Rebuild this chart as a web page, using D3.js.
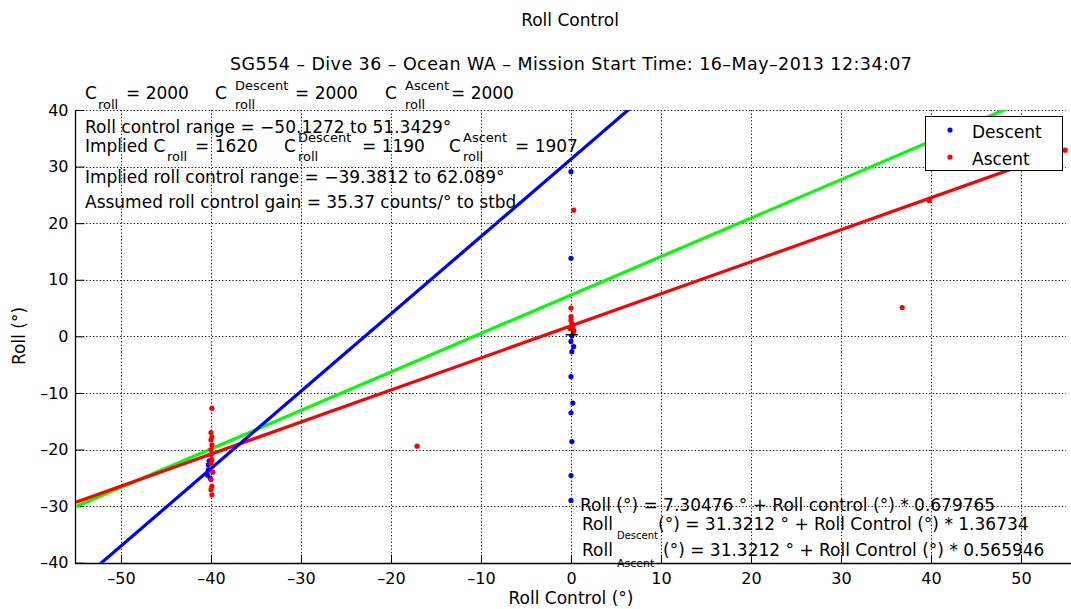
<!DOCTYPE html>
<html>
<head>
<meta charset="utf-8">
<script src="https://cdn.jsdelivr.net/npm/d3@7"></script>
<style>
  body { margin: 0; background: #fff; }
  text { font-family: "DejaVu Sans", sans-serif; fill: #000; }
</style>
</head>
<body>
<svg id="chart" width="1071" height="609"></svg>
<script>
// ---- data ----
const xTicks = [-50, -40, -30, -20, -10, 0, 10, 20, 30, 40, 50];
const yTicks = [-40, -30, -20, -10, 0, 10, 20, 30, 40];

// descent samples (roll control, roll)
const descentX = [0.0, 0.0, 0.1, 0.0, 0.3, 0.1, 0.0, 0.2, 0.0, 0.1, 0.0, 0.0,
                  -40.3, -40.3, -40.4, -40.1, -40.2];
const descentY = [29.1, 13.8, 0.1, -0.9, -1.8, -2.7, -7.1, -11.8, -13.5, -18.6, -24.6, -29.0,
                  -22.7, -23.6, -24.5, -25.0, -22.0];

// ascent samples
const ascentX = [-39.9, -40.0, -39.9, -40.0, -39.9, -40.0, -40.0, -39.9, -40.0, -39.8, -40.0, -39.9, -40.0, -39.9,
                 -17.1, 0.3, 0.0, 0.0, 0.0, 0.1, 0.2, -0.1, 0.3, 0.3, 36.8, 39.8, 54.9];
const ascentY = [-12.7, -17.0, -17.8, -18.3, -19.2, -20.0, -20.9, -21.8, -22.4, -24.0, -25.3, -26.5, -27.1, -28.0,
                 -19.4, 22.3, 5.0, 3.5, 2.9, 2.3, 1.7, 1.4, 1.1, 0.85, 5.1, 24.0, 32.9];

const centerX = [0.08];
const centerY = [0.27];

// fitted lines, end points across the x range
const fitX = [-55, 55];
const fitAllY = [-30.08, 44.69];
const fitDescentY = [-43.88, 106.52];
const fitAscentY = [-29.3, 33.0];

const legendNames = ["Descent", "Ascent"];
const legendColors = ["#0000ff", "#ff0000"];

// ---- layout ----
const svg = d3.select("#chart");
const mLeft = 76, mRight = 1066, mTop = 110, mBottom = 562.7;

const x = d3.scaleLinear().domain([-55, 55]).range([mLeft, mRight]);
const y = d3.scaleLinear().domain([-40, 40]).range([mBottom, mTop]);

svg.append("defs").append("clipPath").attr("id", "plot-clip")
    .append("rect")
    .attr("x", mLeft).attr("y", mTop)
    .attr("width", mRight - mLeft).attr("height", mBottom - mTop);

// grid
let grid = svg.append("g").attr("id", "grid")
    .attr("stroke", "#000")
    .attr("stroke-width", 1)
    .attr("stroke-dasharray", "1.2,2.2");

grid.selectAll("line.gx").data(xTicks).join("line")
    .attr("class", "gx")
    .attr("x1", d => Math.round(x(d)) + 0.5).attr("x2", d => Math.round(x(d)) + 0.5)
    .attr("y1", mTop).attr("y2", mBottom);

grid.selectAll("line.gy").data(yTicks).join("line")
    .attr("class", "gy")
    .attr("y1", d => Math.round(y(d)) + 0.5).attr("y2", d => Math.round(y(d)) + 0.5)
    .attr("x1", mLeft).attr("x2", mRight);

// axes
let xAxis = svg.append("g")
    .attr("transform", `translate(0,${Math.round(mBottom) + 0.5})`)
    .call(d3.axisBottom(x).tickValues(xTicks).tickSizeInner(-9).tickSizeOuter(0).tickPadding(9)
        .tickFormat(d => d < 0 ? "\u2013" + Math.abs(d) : d));
let yAxis = svg.append("g")
    .attr("transform", `translate(${mLeft - 0.5},0)`)
    .call(d3.axisLeft(y).tickValues(yTicks).tickSizeInner(-9).tickSizeOuter(0).tickPadding(7)
        .tickFormat(d => d < 0 ? "\u2013" + Math.abs(d) : d));

[xAxis, yAxis].forEach(a => {
    a.select(".domain").attr("stroke", "#000").attr("stroke-width", 1.3);
    a.selectAll(".tick line").attr("stroke", "#000");
    a.selectAll(".tick text").attr("font-size", 16).attr("font-family", "DejaVu Sans").attr("fill", "#000");
});
xAxis.select(".domain").attr("d", `M${mLeft - 1},0H${mRight + 5}`);
yAxis.select(".domain").attr("d", `M0,${mTop}V${mBottom + 1}`);

// fit lines
let plot = svg.append("g").attr("clip-path", "url(#plot-clip)");
const line = d3.line().x(d => x(d[0])).y(d => y(d[1]));

[[fitAllY, "#00ff00"], [fitAscentY, "#ff0000"], [fitDescentY, "#0000ff"]].forEach(([ys, c]) => {
    plot.append("path")
        .attr("d", line(fitX.map((v, i) => [v, ys[i]])))
        .attr("fill", "none")
        .attr("stroke", c)
        .attr("stroke-width", 3.2);
});

// samples
let pts = svg.append("g");
pts.selectAll("circle.desc").data(descentX.map((v, i) => [v, descentY[i]])).join("circle")
    .attr("class", "desc")
    .attr("cx", d => x(d[0])).attr("cy", d => y(d[1]))
    .attr("r", 2.6).attr("fill", legendColors[0]);
pts.selectAll("circle.asc").data(ascentX.map((v, i) => [v, ascentY[i]])).join("circle")
    .attr("class", "asc")
    .attr("cx", d => x(d[0])).attr("cy", d => y(d[1]))
    .attr("r", 2.6).attr("fill", legendColors[1]);
pts.selectAll("path.ctr").data(centerX.map((v, i) => [v, centerY[i]])).join("path")
    .attr("class", "ctr")
    .attr("d", d => `M${x(d[0]) - 6},${y(d[1])}h12M${x(d[0])},${y(d[1]) - 6}v12`)
    .attr("stroke", "#000").attr("stroke-width", 1.5);

// text helpers
function txt(px, py, s, size) {
    return svg.append("text").attr("x", px).attr("y", py)
        .attr("font-size", size || 17).text(s);
}
function small(px, py, s, size) {
    return txt(px, py, s, size || 13);
}

// titles
txt(570, 26, "Roll Control", 17).attr("text-anchor", "middle");
txt(571, 70, "SG554 \u2013 Dive 36 \u2013 Ocean WA \u2013 Mission Start Time: 16\u2013May\u20132013 12:34:07", 17.5)
    .attr("text-anchor", "middle")
    .attr("textLength", 682).attr("lengthAdjust", "spacing");
txt(571, 604, "Roll Control (\u00b0)", 17).attr("text-anchor", "middle");
txt(0, 0, "Roll (\u00b0)", 17).attr("text-anchor", "middle")
    .attr("transform", "translate(25,336) rotate(-90)");

// gain row above the axes
txt(85, 99, "C"); small(98, 109, "roll"); txt(126, 99, "= 2000");
txt(215, 99, "C"); small(235, 90, "Descent"); small(235, 109, "roll"); txt(295, 99, "= 2000");
txt(385, 99, "C"); small(405, 90, "Ascent"); small(405, 109, "roll"); txt(451, 99, "= 2000");

// notes inside the axes
txt(85, 133, "Roll control range = \u221250.1272 to 51.3429\u00b0");
txt(85, 152, "Implied C"); small(167, 161, "roll"); txt(195, 152, "= 1620");
txt(284, 152, "C"); small(298, 142, "Descent"); small(298, 161, "roll"); txt(362, 152, "= 1190");
txt(449, 152, "C"); small(463, 142, "Ascent"); small(463, 161, "roll"); txt(515, 152, "= 1907");
txt(85, 183, "Implied roll control range = \u221239.3812 to 62.089\u00b0");
txt(85, 208, "Assumed roll control gain = 35.37 counts/\u00b0 to stbd");

// fit equations
txt(580, 511, "Roll (\u00b0) = 7.30476 \u00b0 + Roll control (\u00b0) * 0.679765");
txt(582, 530, "Roll"); small(617, 539, "Descent", 10);
txt(658, 530, "(\u00b0) = 31.3212 \u00b0 + Roll Control (\u00b0) * 1.36734");
txt(582, 556, "Roll"); small(617, 567, "Ascent", 11);
txt(663, 556, "(\u00b0) = 31.3212 \u00b0 + Roll Control (\u00b0) * 0.565946");

// legend
let legend = svg.append("g");
legend.append("rect")
    .attr("x", 925.5).attr("y", 116.5).attr("width", 137).attr("height", 54)
    .attr("fill", "#fff").attr("stroke", "#000").attr("stroke-width", 1);
legend.selectAll("circle").data(legendNames).join("circle")
    .attr("cx", 950).attr("cy", (d, i) => 130 + i * 27)
    .attr("r", 2.6).attr("fill", (d, i) => legendColors[i]);
legend.selectAll("text").data(legendNames).join("text")
    .attr("x", 972).attr("y", (d, i) => 138 + i * 27)
    .attr("font-size", 17).text(d => d);
</script>
</body>
</html>
